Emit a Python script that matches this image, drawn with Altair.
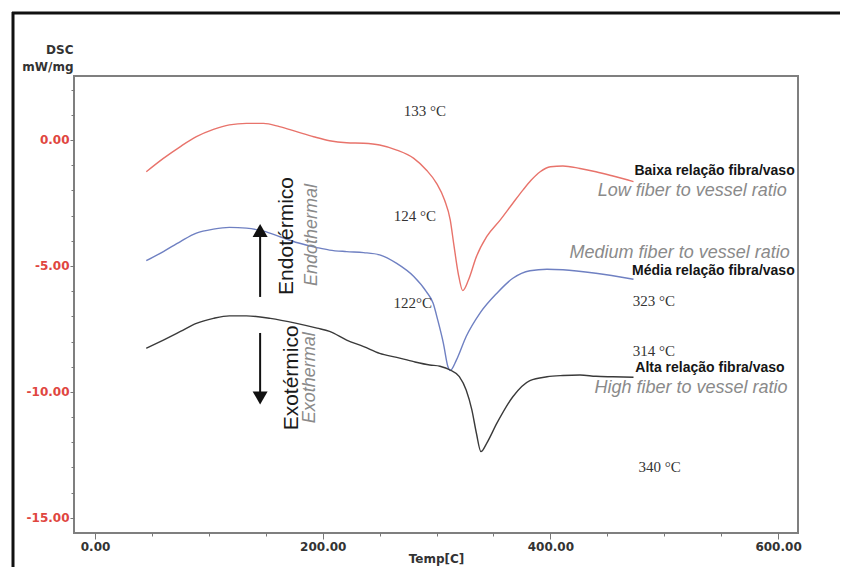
import altair as alt
import pandas as pd

# ---------------- data ----------------
red_T = [45, 60, 75, 89, 104, 118, 133, 148, 162, 177, 192, 206, 221, 236, 250, 265,
         280, 291, 300, 307, 312, 315, 319, 323, 328, 335, 344, 356, 367, 376, 383,
         391, 400, 411, 426, 440, 455, 473]
red_v = [-1.26, -0.73, -0.26, 0.13, 0.42, 0.60, 0.66, 0.66, 0.53, 0.33, 0.13, -0.03,
         -0.11, -0.13, -0.20, -0.40, -0.73, -1.19, -1.72, -2.38, -3.17, -4.10, -5.29,
         -5.98, -5.56, -4.63, -3.84, -3.17, -2.51, -1.98, -1.60, -1.26, -1.06, -1.03,
         -1.13, -1.26, -1.43, -1.65]

blue_T = [45, 60, 75, 89, 104, 118, 133, 148, 163, 178, 195, 206, 221, 236, 250, 265,
          280, 291, 297, 301, 306, 310, 312, 317.5, 326, 338, 353, 367, 382, 397, 411,
          440, 473]
blue_v = [-4.79, -4.43, -4.03, -3.70, -3.54, -3.47, -3.50, -3.62, -3.85, -4.08, -4.27,
          -4.37, -4.43, -4.47, -4.56, -4.90, -5.42, -6.02, -6.48, -7.14, -8.07, -9.00,
          -9.15, -8.73, -7.80, -6.88, -6.08, -5.49, -5.19, -5.13, -5.15, -5.29, -5.53]

black_T = [45, 60, 75, 89, 104, 118, 133, 154, 177, 195, 206, 221, 236, 250, 265, 280,
           294, 303, 312, 320, 326, 331, 335, 339, 344, 353, 367, 382, 397, 411, 426,
           440, 455, 473]
black_v = [-8.27, -7.94, -7.60, -7.28, -7.08, -6.98, -6.98, -7.08, -7.28, -7.47, -7.60,
           -7.94, -8.20, -8.47, -8.63, -8.80, -8.93, -8.98, -9.13, -9.39, -9.92, -10.71,
           -11.64, -12.37, -12.04, -11.24, -10.19, -9.55, -9.40, -9.35, -9.33, -9.38,
           -9.40, -9.42]

series_names = ["Baixa", "Média", "Alta"]
series_colors = ["#e8736b", "#6f80c2", "#3a3a3a"]

temp_labels = ["133 °C", "124 °C", "122°C", "323 °C", "314 °C", "340 °C"]
temp_T = [289.7, 281.0, 279.0, 491.0, 491.0, 496.0]
temp_v = [1.15, -3.02, -6.47, -6.41, -8.37, -13.0]

pt_labels = ["Baixa relação fibra/vaso", "Média relação fibra/vaso", "Alta relação fibra/vaso"]
pt_T = [614.6, 614.6, 605.8]
pt_v = [-1.23, -5.19, -9.05]

en_labels = ["Low fiber to vessel ratio", "Medium fiber to vessel ratio", "High fiber to vessel ratio"]
en_T = [607.6, 610.2, 608.4]
en_v = [-2.01, -4.48, -9.84]

arrow_T = [145.0, 145.0]
arrow_from = [-6.23, -7.66]
arrow_to = [-3.75, -10.05]
head_v = [-3.59, -10.24]
head_shape = ["triangle-up", "triangle-down"]

side_pt = ["Endotérmico", "Exotérmico"]
side_pt_T = [168.6, 173.0]
side_pt_v = [-3.81, -9.44]
side_en = ["Endothermal", "Exothermal"]
side_en_T = [190.5, 188.8]
side_en_v = [-3.77, -9.44]

x_ticks = list(range(0, 601, 50))
y_ticks = list(range(-15, 3))

# ---------------- tables ----------------
rows = []
for name, Ts, vs in zip(series_names, [red_T, blue_T, black_T], [red_v, blue_v, black_v]):
    for t, v in zip(Ts, vs):
        rows.append({"series": name, "T": t, "v": v})
curves = pd.DataFrame(rows)

xs = alt.Scale(domain=[-18.5, 617.5], nice=False, zero=False)
ys = alt.Scale(domain=[-15.6, 2.54], nice=False, zero=False)

x_axis = alt.Axis(
    values=x_ticks,
    labelExpr="datum.value % 200 === 0 ? format(datum.value, '.2f') : ''",
    tickSize={"condition": {"test": "datum.value % 200 === 0", "value": 6}, "value": 3},
    title="Temp[C]", titleFont="DejaVu Sans", titleFontWeight="bold", titleFontSize=12,
    titleColor="#333333", titlePadding=1,
    labelFont="DejaVu Sans", labelFontWeight="bold", labelFontSize=12, labelColor="#333333",
    labelPadding=2, labelFlush=False, labelOverlap=False, domain=False, grid=False,
    tickColor="#777777",
)
y_axis = alt.Axis(
    values=y_ticks,
    labelExpr="abs(datum.value) % 5 < 0.01 ? (datum.value < 0 ? '-' : '') + format(abs(datum.value), '.2f') : ''",
    tickSize={"condition": {"test": "abs(datum.value) % 5 < 0.01", "value": 4}, "value": 3},
    title=["DSC", "mW/mg"], titleAngle=0, titleAlign="right", titleBaseline="bottom",
    titleX=-1, titleY=-20, titleLineHeight=17,
    titleFont="DejaVu Sans", titleFontWeight="bold", titleFontSize=12, titleColor="#333333",
    labelFont="DejaVu Sans", labelFontWeight="bold", labelFontSize=12, labelColor="#e0463f",
    labelPadding=1, labelFlush=False, labelOverlap=False, labelBound=False,
    domain=False, grid=False, tickColor="#777777",
)

X = lambda f: alt.X(f, scale=xs, axis=x_axis)
Y = lambda f: alt.Y(f, scale=ys, axis=y_axis)

lines = alt.Chart(curves).mark_line(strokeWidth=1.4, interpolate="monotone").encode(
    x=X("T:Q"), y=Y("v:Q"),
    color=alt.Color("series:N", scale=alt.Scale(domain=series_names, range=series_colors), legend=None),
)

temps = alt.Chart(pd.DataFrame({"t": temp_labels, "T": temp_T, "v": temp_v})).mark_text(
    font="Liberation Serif", fontSize=15, color="#333333", align="center", baseline="middle"
).encode(x=X("T:Q"), y=Y("v:Q"), text="t:N")

pt = alt.Chart(pd.DataFrame({"t": pt_labels, "T": pt_T, "v": pt_v})).mark_text(
    font="Liberation Sans", fontSize=14, fontWeight="bold", color="#151515",
    align="right", baseline="middle"
).encode(x=X("T:Q"), y=Y("v:Q"), text="t:N")

en = alt.Chart(pd.DataFrame({"t": en_labels, "T": en_T, "v": en_v})).mark_text(
    font="Liberation Sans", fontSize=18, fontStyle="italic", color="#8a8a8a",
    align="right", baseline="middle"
).encode(x=X("T:Q"), y=Y("v:Q"), text="t:N")

shafts = alt.Chart(pd.DataFrame({"T": arrow_T, "a": arrow_from, "b": arrow_to})).mark_rule(
    color="#111111", strokeWidth=2
).encode(x=X("T:Q"), y=Y("a:Q"), y2="b:Q")

heads = alt.Chart(pd.DataFrame({"T": arrow_T, "v": head_v, "s": head_shape})).mark_point(
    filled=True, size=225, color="#111111", opacity=1
).encode(x=X("T:Q"), y=Y("v:Q"), shape=alt.Shape("s:N", scale=None, legend=None))

side1 = alt.Chart(pd.DataFrame({"t": side_pt, "T": side_pt_T, "v": side_pt_v})).mark_text(
    font="Liberation Sans", fontSize=21, color="#1a1a1a", angle=270,
    align="center", baseline="middle"
).encode(x=X("T:Q"), y=Y("v:Q"), text="t:N")

side2 = alt.Chart(pd.DataFrame({"t": side_en, "T": side_en_T, "v": side_en_v})).mark_text(
    font="Liberation Sans", fontSize=18, fontStyle="italic", color="#8a8a8a", angle=270,
    align="center", baseline="middle"
).encode(x=X("T:Q"), y=Y("v:Q"), text="t:N")

one = pd.DataFrame({"k": [0]})
frame_left = alt.Chart(one).mark_rule(color="#111111", strokeWidth=3).encode(
    x=alt.value(-61), y=alt.value(-64), y2=alt.value(500))
frame_top = alt.Chart(one).mark_rule(color="#111111", strokeWidth=3).encode(
    x=alt.value(-62), x2=alt.value(790), y=alt.value(-63))

chart = alt.layer(
    lines, temps, pt, en, shafts, heads, side1, side2, frame_left, frame_top
).properties(
    width=724, height=457,
    padding={"left": 66, "top": 68, "right": 42, "bottom": 34},
    autosize=alt.AutoSizeParams(type="none"),
    background="white",
).configure_view(
    stroke="#7f7f7f", strokeWidth=2
)

chart.save("out.html", embed_options={"renderer": "svg", "actions": False})
